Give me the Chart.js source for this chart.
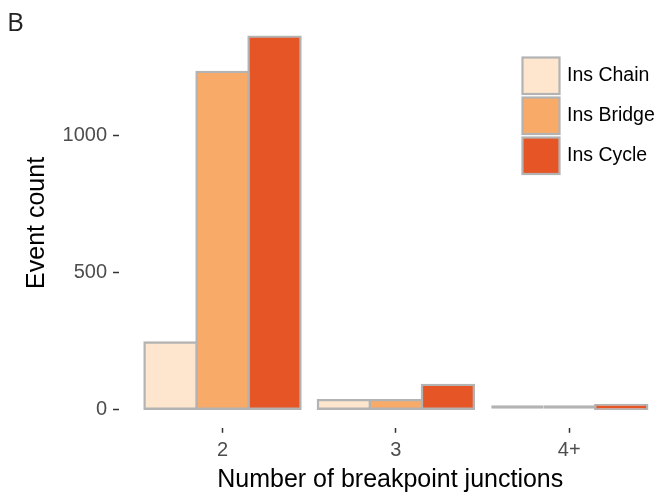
<!DOCTYPE html>
<html>
<head>
<meta charset="utf-8">
<script src="https://cdn.jsdelivr.net/npm/chart.js@4.4.1/dist/chart.umd.min.js"></script>
<style>
    html, body { margin: 0; padding: 0; background: #fff; overflow: hidden; }
    #wrap { position: relative; width: 662px; height: 497px; }
</style>
</head>
<body>
<div id="wrap"><canvas id="chart"></canvas></div>
<script>
    "use strict";

    // Data
    const categories = ["2", "3", "4+"];
    const seriesNames = ["Ins Chain", "Ins Bridge", "Ins Cycle"];
    const insChain = [244, 33, 3];
    const insBridge = [1233, 33, 3];
    const insCycle = [1362, 89, 13];
    const yTicks = [0, 500, 1000];

    const fills = ["#fde5ce", "#f8ab69", "#e55526"];
    const edge = "#b3b3b3";
    Chart.defaults.font.family = "'Liberation Sans', Arial, sans-serif";

    const makeSet = (label, values, i) => ({
        label: label,
        data: values.map((v, k) => ({ x: k, y: v })),
        backgroundColor: fills[i],
        borderColor: edge,
        borderWidth: 2.4,
        borderSkipped: false,
        // tiny bars end up as pure outline, like the ggplot original
        inflateAmount: (c) => (c.raw && c.raw.y >= 10 ? 1.2 : 0),
        minBarLength: 4,
        barPercentage: 1,
        categoryPercentage: 0.9,
    });

    // panel letter + legend drawn on top
    const extras = {
        id: "extras",
        afterDraw(chart) {
            const ctx = chart.ctx;
            ctx.save();
            ctx.fillStyle = "#222";
            ctx.font = "26px 'Open Sans', sans-serif";
            ctx.textBaseline = "alphabetic";
            ctx.fillText("B", 7, 30.5);

            chart.data.datasets.forEach((ds, i) => {
                const y = 57.5 + i * 40;
                ctx.fillStyle = ds.backgroundColor;
                ctx.fillRect(522.5, y, 37, 36.5);
                ctx.strokeStyle = edge;
                ctx.lineWidth = 2.2;
                ctx.strokeRect(522.5, y, 37, 36.5);
                ctx.fillStyle = "#000";
                ctx.font = "19.5px 'Liberation Sans', Arial, sans-serif";
                ctx.textBaseline = "middle";
                ctx.fillText(ds.label, 567, y + 18.5);
            });
            ctx.restore();
        },
    };

    new Chart(document.getElementById("chart"), {
        type: "bar",
        data: {
            datasets: [
                makeSet(seriesNames[0], insChain, 0),
                makeSet(seriesNames[1], insBridge, 1),
                makeSet(seriesNames[2], insCycle, 2),
            ],
        },
        options: {
            responsive: true,
            maintainAspectRatio: false,
            animation: false,
            layout: { padding: { top: 14.3, left: 0, right: 0, bottom: 0 } },
            plugins: {
                legend: { display: false },
                tooltip: { enabled: false },
            },
            scales: {
                x: {
                    type: "linear",
                    min: -0.6,
                    max: 2.535,
                    offset: false,
                    afterBuildTicks: (s) => {
                        s.ticks = categories.map((_, i) => ({ value: i }));
                    },
                    afterFit: (s) => {
                        s.height = 69.2;
                    },
                    ticks: {
                        callback: (v) => categories[Math.round(v)],
                        color: "#4d4d4d",
                        font: { size: 20 },
                        padding: 6,
                        maxRotation: 0,
                    },
                    grid: {
                        display: true,
                        drawOnChartArea: false,
                        drawTicks: true,
                        tickLength: 5,
                        tickColor: "#333",
                        tickWidth: 1.5,
                        offset: false,
                    },
                    border: { display: false },
                    title: {
                        display: true,
                        text: "Number of breakpoint junctions",
                        color: "#000",
                        font: { size: 25 },
                        padding: { top: 0, bottom: 2 },
                    },
                },
                y: {
                    min: -68,
                    max: 1430,
                    afterBuildTicks: (s) => {
                        s.ticks = yTicks.map((v) => ({ value: v }));
                    },
                    afterFit: (s) => {
                        s.width = 118.5;
                    },
                    ticks: {
                        callback: (v) => String(v),
                        color: "#4d4d4d",
                        font: { size: 20 },
                        padding: 6,
                    },
                    grid: {
                        display: true,
                        drawOnChartArea: false,
                        drawTicks: true,
                        tickLength: 5.5,
                        tickColor: "#333",
                        tickWidth: 1.5,
                    },
                    border: { display: false },
                    title: {
                        display: true,
                        text: "Event count",
                        color: "#000",
                        font: { size: 25 },
                        padding: { top: 22, bottom: 0 },
                    },
                },
            },
        },
        plugins: [extras],
    });
</script>
</body>
</html>
